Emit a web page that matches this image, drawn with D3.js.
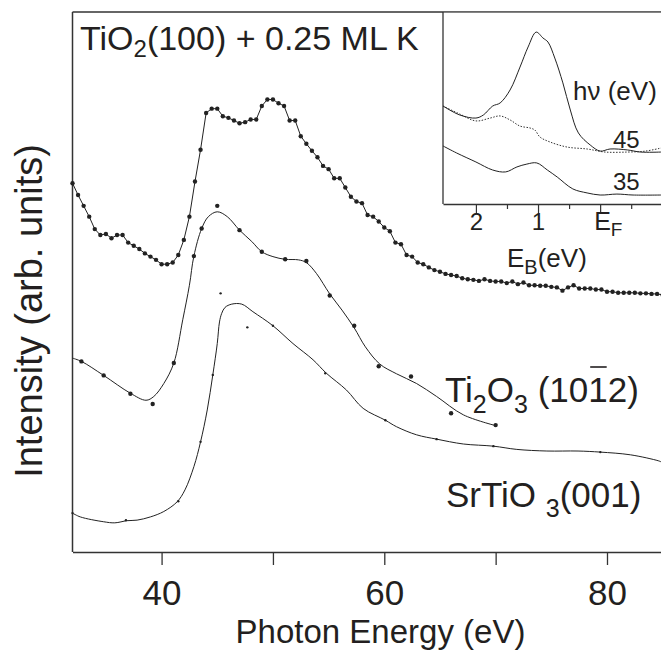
<!DOCTYPE html>
<html>
<head>
<meta charset="utf-8">
<script src="https://cdn.jsdelivr.net/npm/d3@7"></script>
<style>
  body { margin: 0; background: #fff; }
  text { font-family: "Liberation Sans", Arial, Helvetica, sans-serif; fill: #231f20; }
</style>
</head>
<body>
<div id="chart"></div>
<script>
var svgWidth = 661;
var svgHeight = 651;

var margin = { top: 12, right: 0, bottom: 99, left: 72.5 };
var width = svgWidth - margin.left - margin.right;
var height = svgHeight - margin.top - margin.bottom;

// TiO2(100) + 0.25 ML K, measured every 0.5 eV from 32 eV
var tioEnergy = d3.range(32, 85.01, 0.5);
var tioIntensity = [
  6.83, 6.61, 6.41, 6.21, 5.98, 5.87, 5.89, 5.81, 5.87, 5.87,
  5.73, 5.67, 5.61, 5.53, 5.47, 5.41, 5.33, 5.33, 5.36, 5.50,
  5.78, 6.21, 6.86, 7.45, 8.13, 8.21, 8.21, 8.07, 8.04, 7.99,
  7.94, 7.96, 8.01, 8.01, 8.26, 8.38, 8.38, 8.31, 8.26, 7.99,
  7.99, 7.70, 7.56, 7.43, 7.31, 7.15, 7.09, 6.92, 6.92, 6.75,
  6.58, 6.49, 6.46, 6.24, 6.21, 6.12, 6.01, 5.94, 5.73, 5.70,
  5.50, 5.47, 5.36, 5.33, 5.27, 5.22, 5.19, 5.15, 5.13, 5.11,
  5.07, 5.05, 5.04, 5.02, 5.05, 5.02, 5.01, 5.01, 4.98, 5.01,
  4.96, 4.99, 4.94, 4.94, 4.93, 4.93, 4.91, 4.90, 4.84, 4.90,
  4.94, 4.88, 4.88, 4.88, 4.86, 4.86, 4.82, 4.82, 4.80, 4.80,
  4.80, 4.80, 4.79, 4.79, 4.78, 4.78, 4.76
];

// Ti2O3 (10-12): smooth curve and measured points
var ti2o3LineE = [32.0, 32.8, 34.8, 37.2, 38.6, 39.3, 40.2, 41.1, 41.9, 42.5, 42.9, 43.6, 44.2, 45.0, 45.9, 47.0,
  48.1, 49.0, 50.0, 51.1, 52.3, 53.0, 53.9, 55.1, 56.2, 57.3, 58.3, 59.6, 61.1, 62.9, 64.7, 67.1, 70.0];
var ti2o3LineI = [3.59, 3.53, 3.27, 2.94, 2.81, 2.88, 3.12, 3.50, 4.30, 4.94, 5.48, 5.99, 6.21, 6.30, 6.21, 5.96,
  5.75, 5.56, 5.47, 5.42, 5.41, 5.36, 5.16, 4.78, 4.48, 4.15, 3.80, 3.48, 3.30, 3.12, 2.88, 2.54, 2.34];
var ti2o3DotE = [32.8, 34.8, 37.2, 39.2, 41.1, 42.9, 43.6, 45.0, 47.0, 49.0, 51.1, 53.0, 55.1, 57.3, 59.5, 62.4, 66.0, 70.0];
var ti2o3DotI = [3.53, 3.27, 2.93, 2.74, 3.50, 5.48, 5.99, 6.41, 5.96, 5.56, 5.42, 5.39, 4.75, 4.19, 3.44, 3.25, 2.57, 2.35];

// SrTiO3(001): smooth curve and measured points
var srtioLineE = [32.0, 32.7, 34.8, 35.8, 36.9, 37.8, 39.0, 40.2, 41.4, 42.1, 42.9, 43.5, 44.1, 44.6, 45.0, 45.2,
  45.4, 45.7, 46.3, 47.2, 48.2, 50.0, 51.8, 53.6, 54.8, 56.6, 58.1, 60.1, 61.1, 62.9, 64.7, 67.1, 69.8, 71.9,
  74.6, 77.4, 79.4, 82.1, 84.6, 84.85];
var srtioLineI = [0.72, 0.65, 0.56, 0.54, 0.58, 0.59, 0.65, 0.75, 0.93, 1.15, 1.58, 2.04, 2.63, 3.28, 3.86, 4.26,
  4.42, 4.53, 4.59, 4.59, 4.45, 4.19, 3.86, 3.56, 3.31, 3.00, 2.66, 2.44, 2.32, 2.17, 2.09, 2.00, 1.96, 1.90,
  1.87, 1.87, 1.85, 1.80, 1.69, 1.67];
var srtioDotE = [32.0, 36.8, 41.5, 43.5, 44.6, 45.3, 47.7, 50.0, 54.7, 60.1, 64.7, 69.8, 79.4];
var srtioDotI = [0.72, 0.59, 0.94, 2.04, 3.28, 4.79, 4.16, 4.19, 3.31, 2.44, 2.09, 1.96, 1.85];

var xTicks = [40, 50, 60, 70, 80];
var xTickLabels = ["40", "", "60", "", "80"];

// inset: valence band, binding energy (eV)
var inset45E = [2.53, 2.26, 2.0, 1.88, 1.73, 1.61, 1.45, 1.29, 1.16, 1.03, 0.92, 0.84, 0.73, 0.60, 0.48, 0.35,
  0.16, 0, -0.16, -0.44, -0.65, -0.98];
var inset45I = [5.13, 4.66, 4.50, 4.66, 5.13, 5.29, 5.97, 7.17, 8.22, 9.0, 8.69, 8.48, 7.64, 6.34, 4.92, 3.72,
  3.09, 2.77, 2.88, 2.83, 2.72, 2.72];
var insetRefE = [2.53, 2.26, 2.0, 1.77, 1.61, 1.45, 1.29, 1.13, 1.05, 0.97, 0.81, 0.53, 0.21, -0.08, -0.44, -0.73, -0.98];
var insetRefI = [5.13, 4.71, 4.35, 4.50, 4.61, 4.40, 4.08, 3.98, 3.87, 3.51, 3.25, 2.98, 2.88, 2.72, 2.72, 2.77, 2.93];
var inset35E = [2.53, 2.31, 2.0, 1.73, 1.52, 1.34, 1.18, 1.02, 0.85, 0.69, 0.44, 0.21, 0, -0.27, -0.53, -0.98];
var inset35I = [3.04, 2.67, 2.20, 1.78, 1.68, 1.94, 2.09, 2.15, 1.78, 1.41, 0.79, 0.58, 0.47, 0.52, 0.47, 0.47];
var insetMajorTicks = [2, 1, 0];
var insetMinorTicks = [1.5, 0.5, -0.5];

function zip(xs, ys) {
  return xs.map(function(d, i) { return { x: d, y: ys[i] }; });
}

var svg = d3.select("#chart")
  .append("svg")
  .attr("width", svgWidth)
  .attr("height", svgHeight);

var chartGroup = svg.append("g")
  .attr("transform", `translate(${margin.left}, ${margin.top})`);

var xScale = d3.scaleLinear().domain([32, 84.85]).range([0, width]);
var yScale = d3.scaleLinear().domain([0, 10]).range([height, 0]);

var ink = "#231f20";

// frame: left and top
chartGroup.append("line").attr("x1", 0).attr("x2", 0).attr("y1", 0).attr("y2", height)
  .attr("stroke", "#333").attr("stroke-width", 1.5);
chartGroup.append("line").attr("x1", 0).attr("x2", width).attr("y1", 0).attr("y2", 0)
  .attr("stroke", "#333").attr("stroke-width", 1.5);

var bottomAxis = d3.axisBottom(xScale)
  .tickValues(xTicks)
  .tickSize(13)
  .tickSizeOuter(0)
  .tickPadding(15)
  .tickFormat(function(d, i) { return xTickLabels[i]; });

var xAxisG = chartGroup.append("g")
  .attr("transform", `translate(0, ${height})`)
  .call(bottomAxis);
xAxisG.select(".domain").attr("stroke", "#333").attr("stroke-width", 1.5);
xAxisG.selectAll(".tick line").attr("stroke", "#333").attr("stroke-width", 1.3);
xAxisG.selectAll(".tick text")
  .attr("fill", ink)
  .style("font-family", '"Liberation Sans", Arial, sans-serif')
  .style("font-size", "35px");

var line = d3.line().x(d => xScale(d.x)).y(d => yScale(d.y));
var smooth = d3.line().x(d => xScale(d.x)).y(d => yScale(d.y)).curve(d3.curveCatmullRom.alpha(0.5));

// SrTiO3
chartGroup.append("path").datum(zip(srtioLineE, srtioLineI))
  .attr("d", smooth).attr("fill", "none").attr("stroke", "#222").attr("stroke-width", 1);
chartGroup.selectAll(".srdot").data(zip(srtioDotE, srtioDotI)).enter()
  .append("circle").attr("class", "srdot")
  .attr("cx", d => xScale(d.x)).attr("cy", d => yScale(d.y)).attr("r", 1.2).attr("fill", "#222");

// Ti2O3
chartGroup.append("path").datum(zip(ti2o3LineE, ti2o3LineI))
  .attr("d", smooth).attr("fill", "none").attr("stroke", "#222").attr("stroke-width", 1);
chartGroup.selectAll(".tidot").data(zip(ti2o3DotE, ti2o3DotI)).enter()
  .append("circle").attr("class", "tidot")
  .attr("cx", d => xScale(d.x)).attr("cy", d => yScale(d.y)).attr("r", 2.2).attr("fill", "#222");

// TiO2 + K
var tioData = zip(tioEnergy, tioIntensity);
chartGroup.append("path").datum(tioData)
  .attr("d", line).attr("fill", "none").attr("stroke", "#222").attr("stroke-width", 1);
chartGroup.selectAll(".tiodot").data(tioData).enter()
  .append("circle").attr("class", "tiodot")
  .attr("cx", d => xScale(d.x)).attr("cy", d => yScale(d.y)).attr("r", 2.2).attr("fill", "#222");

// inset
var insetLeft = 370.5;
var insetBottom = 192;
var insetX = d3.scaleLinear().domain([2.53, -0.98]).range([insetLeft, width]);
var insetY = d3.scaleLinear().domain([0, 10]).range([insetBottom, 1]);

var insetGroup = chartGroup.append("g");
insetGroup.append("rect").attr("x", insetLeft).attr("y", 0.8)
  .attr("width", width - insetLeft).attr("height", insetBottom - 0.8).attr("fill", "#fff");
insetGroup.append("line").attr("x1", insetLeft).attr("x2", insetLeft).attr("y1", 0).attr("y2", insetBottom)
  .attr("stroke", "#333").attr("stroke-width", 1.3);

var minorAxis = insetGroup.append("g")
  .attr("transform", `translate(0, ${insetBottom})`)
  .call(d3.axisBottom(insetX).tickValues(insetMinorTicks).tickSize(5).tickSizeOuter(0).tickFormat(""));
minorAxis.select(".domain").remove();
minorAxis.selectAll("line").attr("stroke", "#333").attr("stroke-width", 1.2);

var majorAxis = insetGroup.append("g")
  .attr("transform", `translate(0, ${insetBottom})`)
  .call(d3.axisBottom(insetX).tickValues(insetMajorTicks).tickSize(9).tickSizeOuter(0).tickPadding(0)
    .tickFormat(d => d === 0 ? "" : String(d)));
majorAxis.select(".domain").attr("stroke", "#333").attr("stroke-width", 1.3);
majorAxis.selectAll("line").attr("stroke", "#333").attr("stroke-width", 1.2);
majorAxis.selectAll(".tick text")
  .attr("fill", ink)
  .style("font-family", '"Liberation Sans", Arial, sans-serif')
  .style("font-size", "24px");

var ef = insetGroup.append("text")
  .attr("x", insetX(0) - 6).attr("y", insetBottom + 26)
  .style("font-size", "25px");
ef.append("tspan").text("E");
ef.append("tspan").attr("dy", 6).style("font-size", "19px").text("F");

var insetLine = d3.line().x(d => insetX(d.x)).y(d => insetY(d.y)).curve(d3.curveCatmullRom.alpha(0.5));
insetGroup.append("path").datum(zip(insetRefE, insetRefI))
  .attr("d", insetLine).attr("fill", "none").attr("stroke", "#333").attr("stroke-width", 1)
  .attr("stroke-dasharray", "1.5,1.5");
insetGroup.append("path").datum(zip(inset45E, inset45I))
  .attr("d", insetLine).attr("fill", "none").attr("stroke", "#222").attr("stroke-width", 1);
insetGroup.append("path").datum(zip(inset35E, inset35I))
  .attr("d", insetLine).attr("fill", "none").attr("stroke", "#222").attr("stroke-width", 1);

// inset labels
svg.append("text").attr("x", 573).attr("y", 100).style("font-size", "26px").text("h\u03bd (eV)");
svg.append("text").attr("x", 613).attr("y", 148).style("font-size", "24px").text("45");
svg.append("text").attr("x", 613).attr("y", 190).style("font-size", "24px").text("35");
var eb = svg.append("text").attr("x", 507).attr("y", 267).style("font-size", "26px");
eb.append("tspan").text("E");
eb.append("tspan").attr("dy", 7).style("font-size", "20px").text("B");
eb.append("tspan").attr("dy", -7).text("(eV)");

// title
var title = svg.append("text").attr("x", 80).attr("y", 50).style("font-size", "34px");
title.append("tspan").text("TiO");
title.append("tspan").attr("dy", 7).style("font-size", "24px").text("2");
title.append("tspan").attr("dy", -7).text("(100) + 0.25 ML K");

// curve labels
var tiLabel = svg.append("text").attr("x", 445).attr("y", 402).style("font-size", "35px");
tiLabel.append("tspan").text("Ti");
tiLabel.append("tspan").attr("dy", 11).style("font-size", "25px").text("2");
tiLabel.append("tspan").attr("dy", -11).text("O");
tiLabel.append("tspan").attr("dy", 11).style("font-size", "25px").text("3");
tiLabel.append("tspan").attr("dy", -11).text(" (1012)");
var barStart = tiLabel.node().getStartPositionOfChar(9);
var barEnd = tiLabel.node().getEndPositionOfChar(9);
svg.append("line").attr("x1", barStart.x + 2).attr("x2", barEnd.x - 1)
  .attr("y1", 367).attr("y2", 367).attr("stroke", ink).attr("stroke-width", 1.6);

var srLabel = svg.append("text").attr("x", 446).attr("y", 507).style("font-size", "35px");
srLabel.append("tspan").text("SrTiO ");
srLabel.append("tspan").attr("dy", 10).style("font-size", "25px").text("3");
srLabel.append("tspan").attr("dy", -10).text("(001)");

// axis titles
svg.append("text")
  .attr("transform", "translate(42, 311) rotate(-90)")
  .attr("text-anchor", "middle")
  .style("font-size", "38px")
  .text("Intensity (arb. units)");

svg.append("text")
  .attr("x", 380.5).attr("y", 643)
  .attr("text-anchor", "middle")
  .style("font-size", "33px")
  .text("Photon Energy (eV)");
</script>
</body>
</html>
